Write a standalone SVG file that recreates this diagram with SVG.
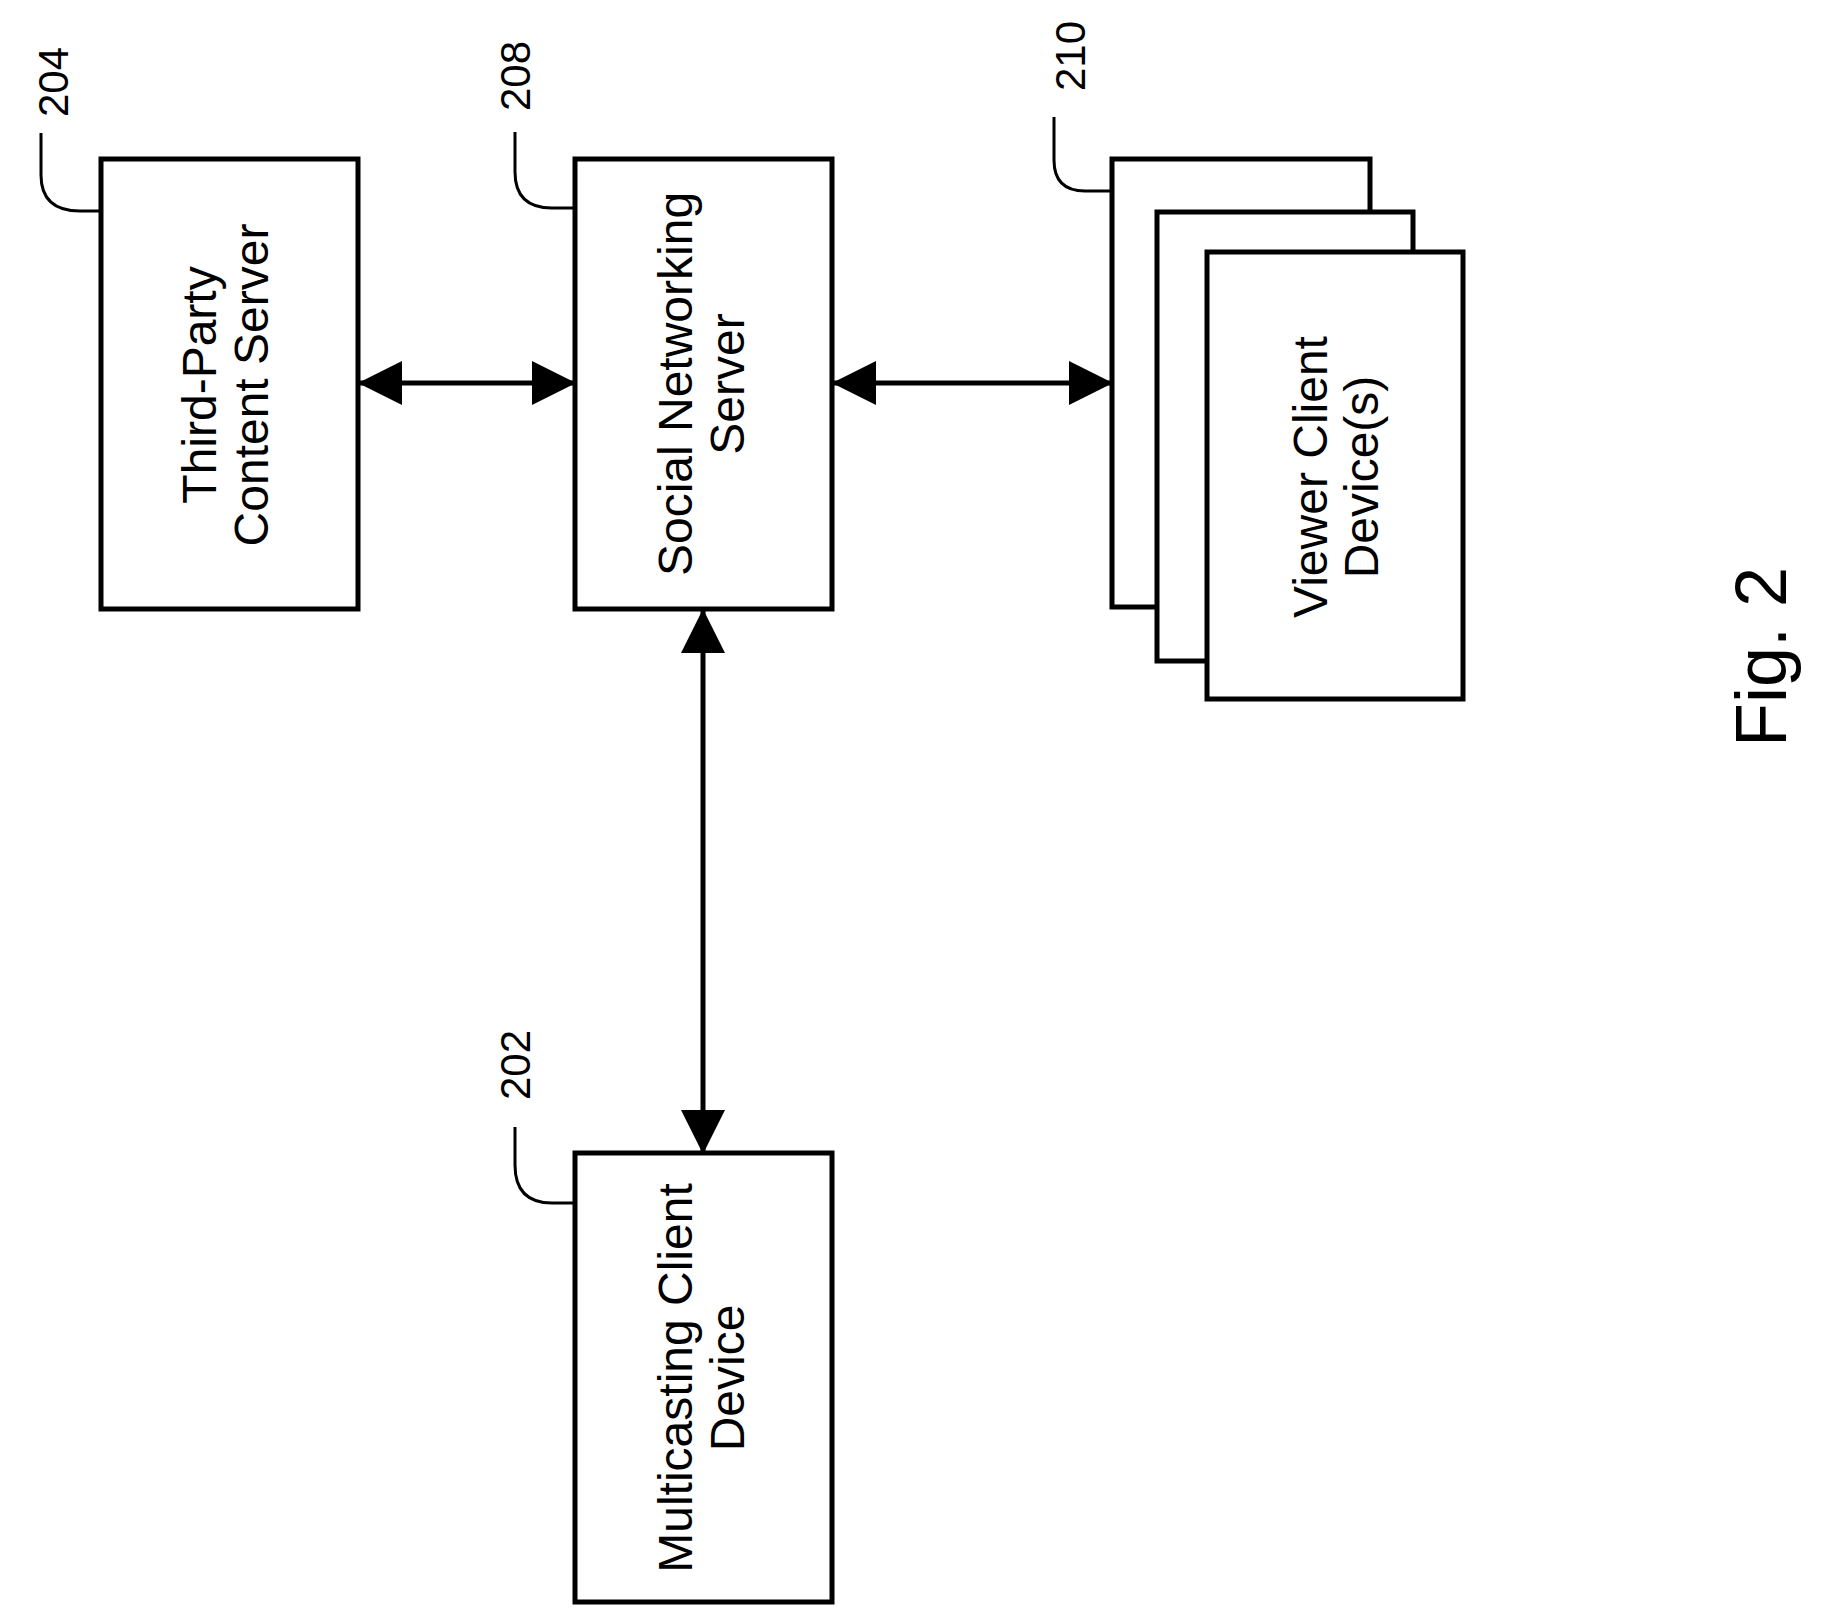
<svg xmlns="http://www.w3.org/2000/svg" width="1822" height="1618" viewBox="0 0 1822 1618">
<style>
.box{fill:#fff;stroke:#000;stroke-width:5}
.lead{fill:none;stroke:#000;stroke-width:3}
.conn{stroke:#000;stroke-width:5;fill:none}
text{font-family:"Liberation Sans",Arial,sans-serif;fill:#000;text-anchor:middle}
.lbl{font-size:48px}
.num{font-size:42px}
</style>
<defs>
<marker id="ah" markerUnits="userSpaceOnUse" markerWidth="44" markerHeight="44" refX="42" refY="22" orient="auto-start-reverse" viewBox="0 0 44 44">
<path d="M0,0 L44,22 L0,44 Z" fill="#000"/>
</marker>
</defs>
<rect width="1822" height="1618" fill="#fff"/>
<g id="connectors">
<line class="conn" x1="360" y1="383" x2="574" y2="383" marker-start="url(#ah)" marker-end="url(#ah)"/>
<line class="conn" x1="834" y1="383" x2="1111" y2="383" marker-start="url(#ah)" marker-end="url(#ah)"/>
<line class="conn" x1="703" y1="611" x2="703" y2="1152" marker-start="url(#ah)" marker-end="url(#ah)"/>
</g>
<g id="n204">
<rect class="box" x="101" y="159" width="257" height="450"/>
<path class="lead" d="M41,133 V175 Q41,211 80,211 H101"/>
<text class="num" transform="translate(68,82) rotate(-90)">204</text>
<text class="lbl" transform="translate(216,385) rotate(-90)">Third-Party</text>
<text class="lbl" transform="translate(268,385) rotate(-90)">Content Server</text>
</g>
<g id="n208">
<rect class="box" x="575" y="159" width="257" height="450"/>
<path class="lead" d="M515,132 V172 Q515,208 552,208 H575"/>
<text class="num" transform="translate(530,76) rotate(-90)">208</text>
<text class="lbl" transform="translate(692,384) rotate(-90)">Social Networking</text>
<text class="lbl" transform="translate(744,384) rotate(-90)">Server</text>
</g>
<g id="n210">
<rect class="box" x="1112" y="159" width="258" height="448"/>
<rect class="box" x="1157" y="212" width="256" height="449"/>
<rect class="box" x="1207" y="252" width="256" height="447"/>
<path class="lead" d="M1054,117 V160 Q1054,191 1085,191 H1112"/>
<text class="num" transform="translate(1085,56) rotate(-90)">210</text>
<text class="lbl" transform="translate(1327,477) rotate(-90)">Viewer Client</text>
<text class="lbl" transform="translate(1378,477) rotate(-90)">Device(s)</text>
</g>
<g id="n202">
<rect class="box" x="575" y="1153" width="257" height="449"/>
<path class="lead" d="M515,1127 V1165 Q515,1203 552,1203 H575"/>
<text class="num" transform="translate(530,1065) rotate(-90)">202</text>
<text class="lbl" transform="translate(692,1378) rotate(-90)">Multicasting Client</text>
<text class="lbl" transform="translate(744,1378) rotate(-90)">Device</text>
</g>
<text style="font-size:72px" transform="translate(1786,657) rotate(-90)">Fig. 2</text>
</svg>
